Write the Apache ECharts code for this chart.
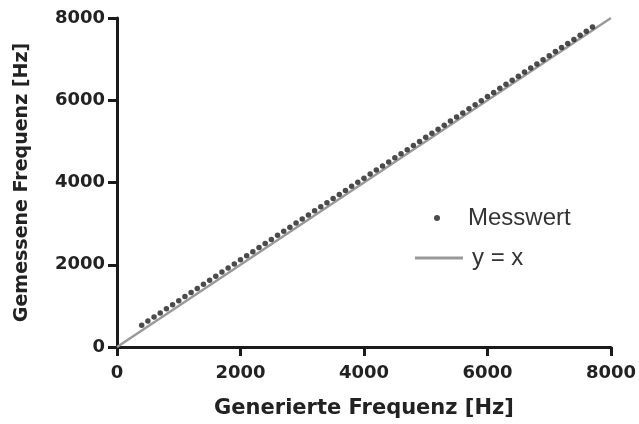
<!DOCTYPE html>
<html>
<head>
<meta charset="utf-8">
<script src="https://cdn.jsdelivr.net/npm/echarts@6/dist/echarts.min.js"></script>
<style>html,body{margin:0;padding:0;background:#fff}#c{width:639px;height:424px}</style>
</head>
<body>
<div id="c"></div>
<script>
var genFreq = [400,500,600,700,800,900,1000,1100,1200,1300,1400,1500,1600,1700,1800,1900,2000,2100,2200,2300,2400,2500,2600,2700,2800,2900,3000,3100,3200,3300,3400,3500,3600,3700,3800,3900,4000,4100,4200,4300,4400,4500,4600,4700,4800,4900,5000,5100,5200,5300,5400,5500,5600,5700,5800,5900,6000,6100,6200,6300,6400,6500,6600,6700,6800,6900,7000,7100,7200,7300,7400,7500,7600,7700];
var measFreq = [530,630,729,829,928,1027,1126,1226,1325,1424,1524,1623,1722,1822,1921,2020,2119,2219,2318,2417,2517,2616,2715,2815,2914,3013,3112,3212,3311,3410,3509,3608,3708,3807,3906,4005,4105,4204,4303,4402,4501,4601,4700,4799,4898,4997,5098,5197,5296,5395,5494,5593,5692,5791,5890,5989,6091,6190,6289,6388,6487,6586,6685,6784,6883,6982,7084,7183,7282,7381,7480,7579,7679,7780];
var identX = [0, 8000];
var identY = [0, 8000];
var ticks = [0, 2000, 4000, 6000, 8000];

var scatterData = genFreq.map(function(x, i){ return [x, measFreq[i]]; });
var lineData = identX.map(function(x, i){ return [x, identY[i]]; });

var chart = echarts.init(document.getElementById('c'), null, {renderer: 'canvas'});
var labelFont = {color: '#222', fontFamily: 'DejaVu Sans', fontWeight: 'bold', fontSize: 18,
  formatter: function(v){ return String(v); }};
var axisCommon = {
  type: 'value', min: ticks[0], max: ticks[ticks.length-1], interval: 2000,
  splitLine: {show: false},
  axisLine: {show: true, onZero: false, lineStyle: {color: '#1a1a1a', width: 3}},
  axisTick: {show: true, length: 9, lineStyle: {color: '#1a1a1a', width: 3}}
};
var nameFont = {color: '#222', fontFamily: 'DejaVu Sans', fontWeight: 'bold'};
chart.setOption({
  animation: false,
  backgroundColor: '#fff',
  grid: {left: 117, right: 26, top: 18, bottom: 76, containLabel: false},
  xAxis: Object.assign({}, axisCommon, {
    name: 'Generierte Frequenz [Hz]', nameLocation: 'middle', nameGap: 51,
    nameTextStyle: Object.assign({}, nameFont, {fontSize: 21}),
    axisLabel: Object.assign({}, labelFont, {margin: 17})
  }),
  yAxis: Object.assign({}, axisCommon, {
    name: 'Gemessene Frequenz [Hz]', nameLocation: 'middle', nameGap: 85,
    nameTextStyle: Object.assign({}, nameFont, {fontSize: 19}),
    axisLabel: Object.assign({}, labelFont, {margin: 12})
  }),
  legend: [
    {data: ['Messwert'], left: 434, top: 206, padding: 0, icon: 'circle', itemWidth: 6, itemHeight: 6,
     textStyle: {fontFamily: 'Liberation Sans', fontSize: 24, color: '#333', padding: [0,0,0,23]}},
    {data: ['y = x'], left: 415, top: 246, padding: 0, icon: 'rect', itemWidth: 48, itemHeight: 3,
     textStyle: {fontFamily: 'Liberation Sans', fontSize: 24, color: '#333', padding: [0,0,0,4]}}
  ],
  series: [
    {name: 'y = x', type: 'line', data: lineData, symbol: 'none', z: 2,
     lineStyle: {color: '#999', width: 2.5}, itemStyle: {color: '#999'}},
    {name: 'Messwert', type: 'scatter', data: scatterData, symbol: 'circle', symbolSize: 5.5, z: 3,
     itemStyle: {color: '#1e1e1e'}}
  ]
});
</script>
</body>
</html>
